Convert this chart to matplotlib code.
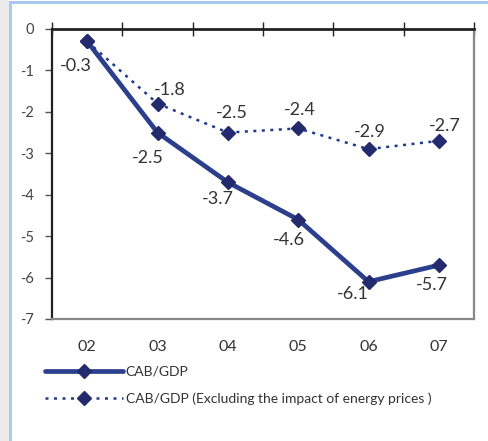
import matplotlib
matplotlib.use("Agg")
import matplotlib.pyplot as plt
from matplotlib.patches import Rectangle
from matplotlib.lines import Line2D

plt.rcParams['font.family'] = ['Lato', 'DejaVu Sans']

years = ["02", "03", "04", "05", "06", "07"]
cab_gdp = [-0.3, -2.5, -3.7, -4.6, -6.1, -5.7]
cab_gdp_ex_energy = [-0.3, -1.8, -2.5, -2.4, -2.9, -2.7]
y_ticks = [0, -1, -2, -3, -4, -5, -6, -7]
series_names = ["CAB/GDP", "CAB/GDP (Excluding the impact of energy prices )"]

W, H = 489, 441
fig = plt.figure(figsize=(W / 100, H / 100), dpi=100)
fig.patch.set_facecolor("white")

# page background: gray strip at left and blue frame lines
fig.patches.append(Rectangle((0, 0), 9 / W, 1, transform=fig.transFigure,
                             facecolor="#ebebeb", edgecolor="none", zorder=0))
fig.patches.append(Rectangle((9 / W, 0), 2.5 / W, 1 - 1 / H, transform=fig.transFigure,
                             facecolor="#a9c9ee", edgecolor="none", zorder=0))
fig.patches.append(Rectangle((9 / W, 1 - 4 / H), 1 - 9 / W, 2.5 / H, transform=fig.transFigure,
                             facecolor="#a9c9ee", edgecolor="none", zorder=0))

ax = fig.add_axes([52 / W, 1 - 319 / H, (474 - 52) / W, (319 - 29) / H])
x = list(range(len(years)))

solid_color = "#2b3f8d"
marker_color = "#232a6e"
ax.plot(x, cab_gdp, color=solid_color, lw=3.4, marker="D", ms=7,
        mfc=marker_color, mec=marker_color, zorder=3, solid_capstyle="round")
ax.plot(x, cab_gdp_ex_energy, color="#1f3a8a", lw=1.8, ls=(0, (1.2, 2.2)),
        marker="D", ms=7, mfc=marker_color, mec=marker_color, zorder=4)

ax.set_xlim(-0.5, len(years) - 0.5)
ax.set_ylim(-7, 0)
ax.set_yticks(y_ticks)
ax.set_yticklabels([str(v) for v in y_ticks])
ax.set_xticks(x)
ax.set_xticklabels(years)
ax.set_xticks([i - 0.5 for i in range(len(years) + 1)], minor=True)

ax.tick_params(axis="y", direction="out", length=5, width=1, color="#555555",
               labelsize=10.5, pad=8, labelcolor="#444444")
ax.tick_params(axis="x", which="major", length=0, pad=15, labelsize=11.5,
               labelcolor="#333333")
ax.tick_params(axis="x", which="minor", top=True, bottom=False, direction="inout",
               length=10, width=1, color="#222222")

for side, col, lw in [("top", "#222222", 2), ("left", "#222222", 1.6),
                      ("right", "#888888", 1.6), ("bottom", "#888888", 1.6)]:
    ax.spines[side].set_color(col)
    ax.spines[side].set_linewidth(lw)

fs = 13
txtc = "#333333"
# labels for solid series (below)
solid_offsets = [(-8, -18), (-7, -18), (-7, -12), (-7, -15), (-11, -9), (-5, -14)]
for i, (v, off) in enumerate(zip(cab_gdp, solid_offsets)):
    ax.annotate(f"{v:.1f}", (x[i], v), xytext=off, textcoords="offset points",
                ha="center", va="center", fontsize=fs, color=txtc)
# labels for dotted series (above), skip first (shared)
dot_offsets = [None, (9, 10), (3, 14), (1, 13), (1, 12), (4, 11)]
for i, (v, off) in enumerate(zip(cab_gdp_ex_energy, dot_offsets)):
    if off is None:
        continue
    ax.annotate(f"{v:.1f}", (x[i], v), xytext=off, textcoords="offset points",
                ha="center", va="center", fontsize=fs, color=txtc)

handles = [
    Line2D([], [], color=solid_color, lw=3.4, marker="D", ms=7,
           mfc=marker_color, mec=marker_color, solid_capstyle="round"),
    Line2D([], [], color="#1f3a8a", lw=1.8, ls=(0, (1.2, 2.2)), marker="D", ms=7,
           mfc=marker_color, mec=marker_color),
]
leg = fig.legend(handles, series_names, loc="upper left",
                 bbox_to_anchor=(45 / W, 1 - 366 / H), frameon=False,
                 fontsize=10, handlelength=5.6, handletextpad=0.2,
                 labelspacing=1.05, borderaxespad=0, borderpad=0)
for t in leg.get_texts():
    t.set_color(txtc)

fig.savefig("out.png", dpi=100, facecolor="white")
